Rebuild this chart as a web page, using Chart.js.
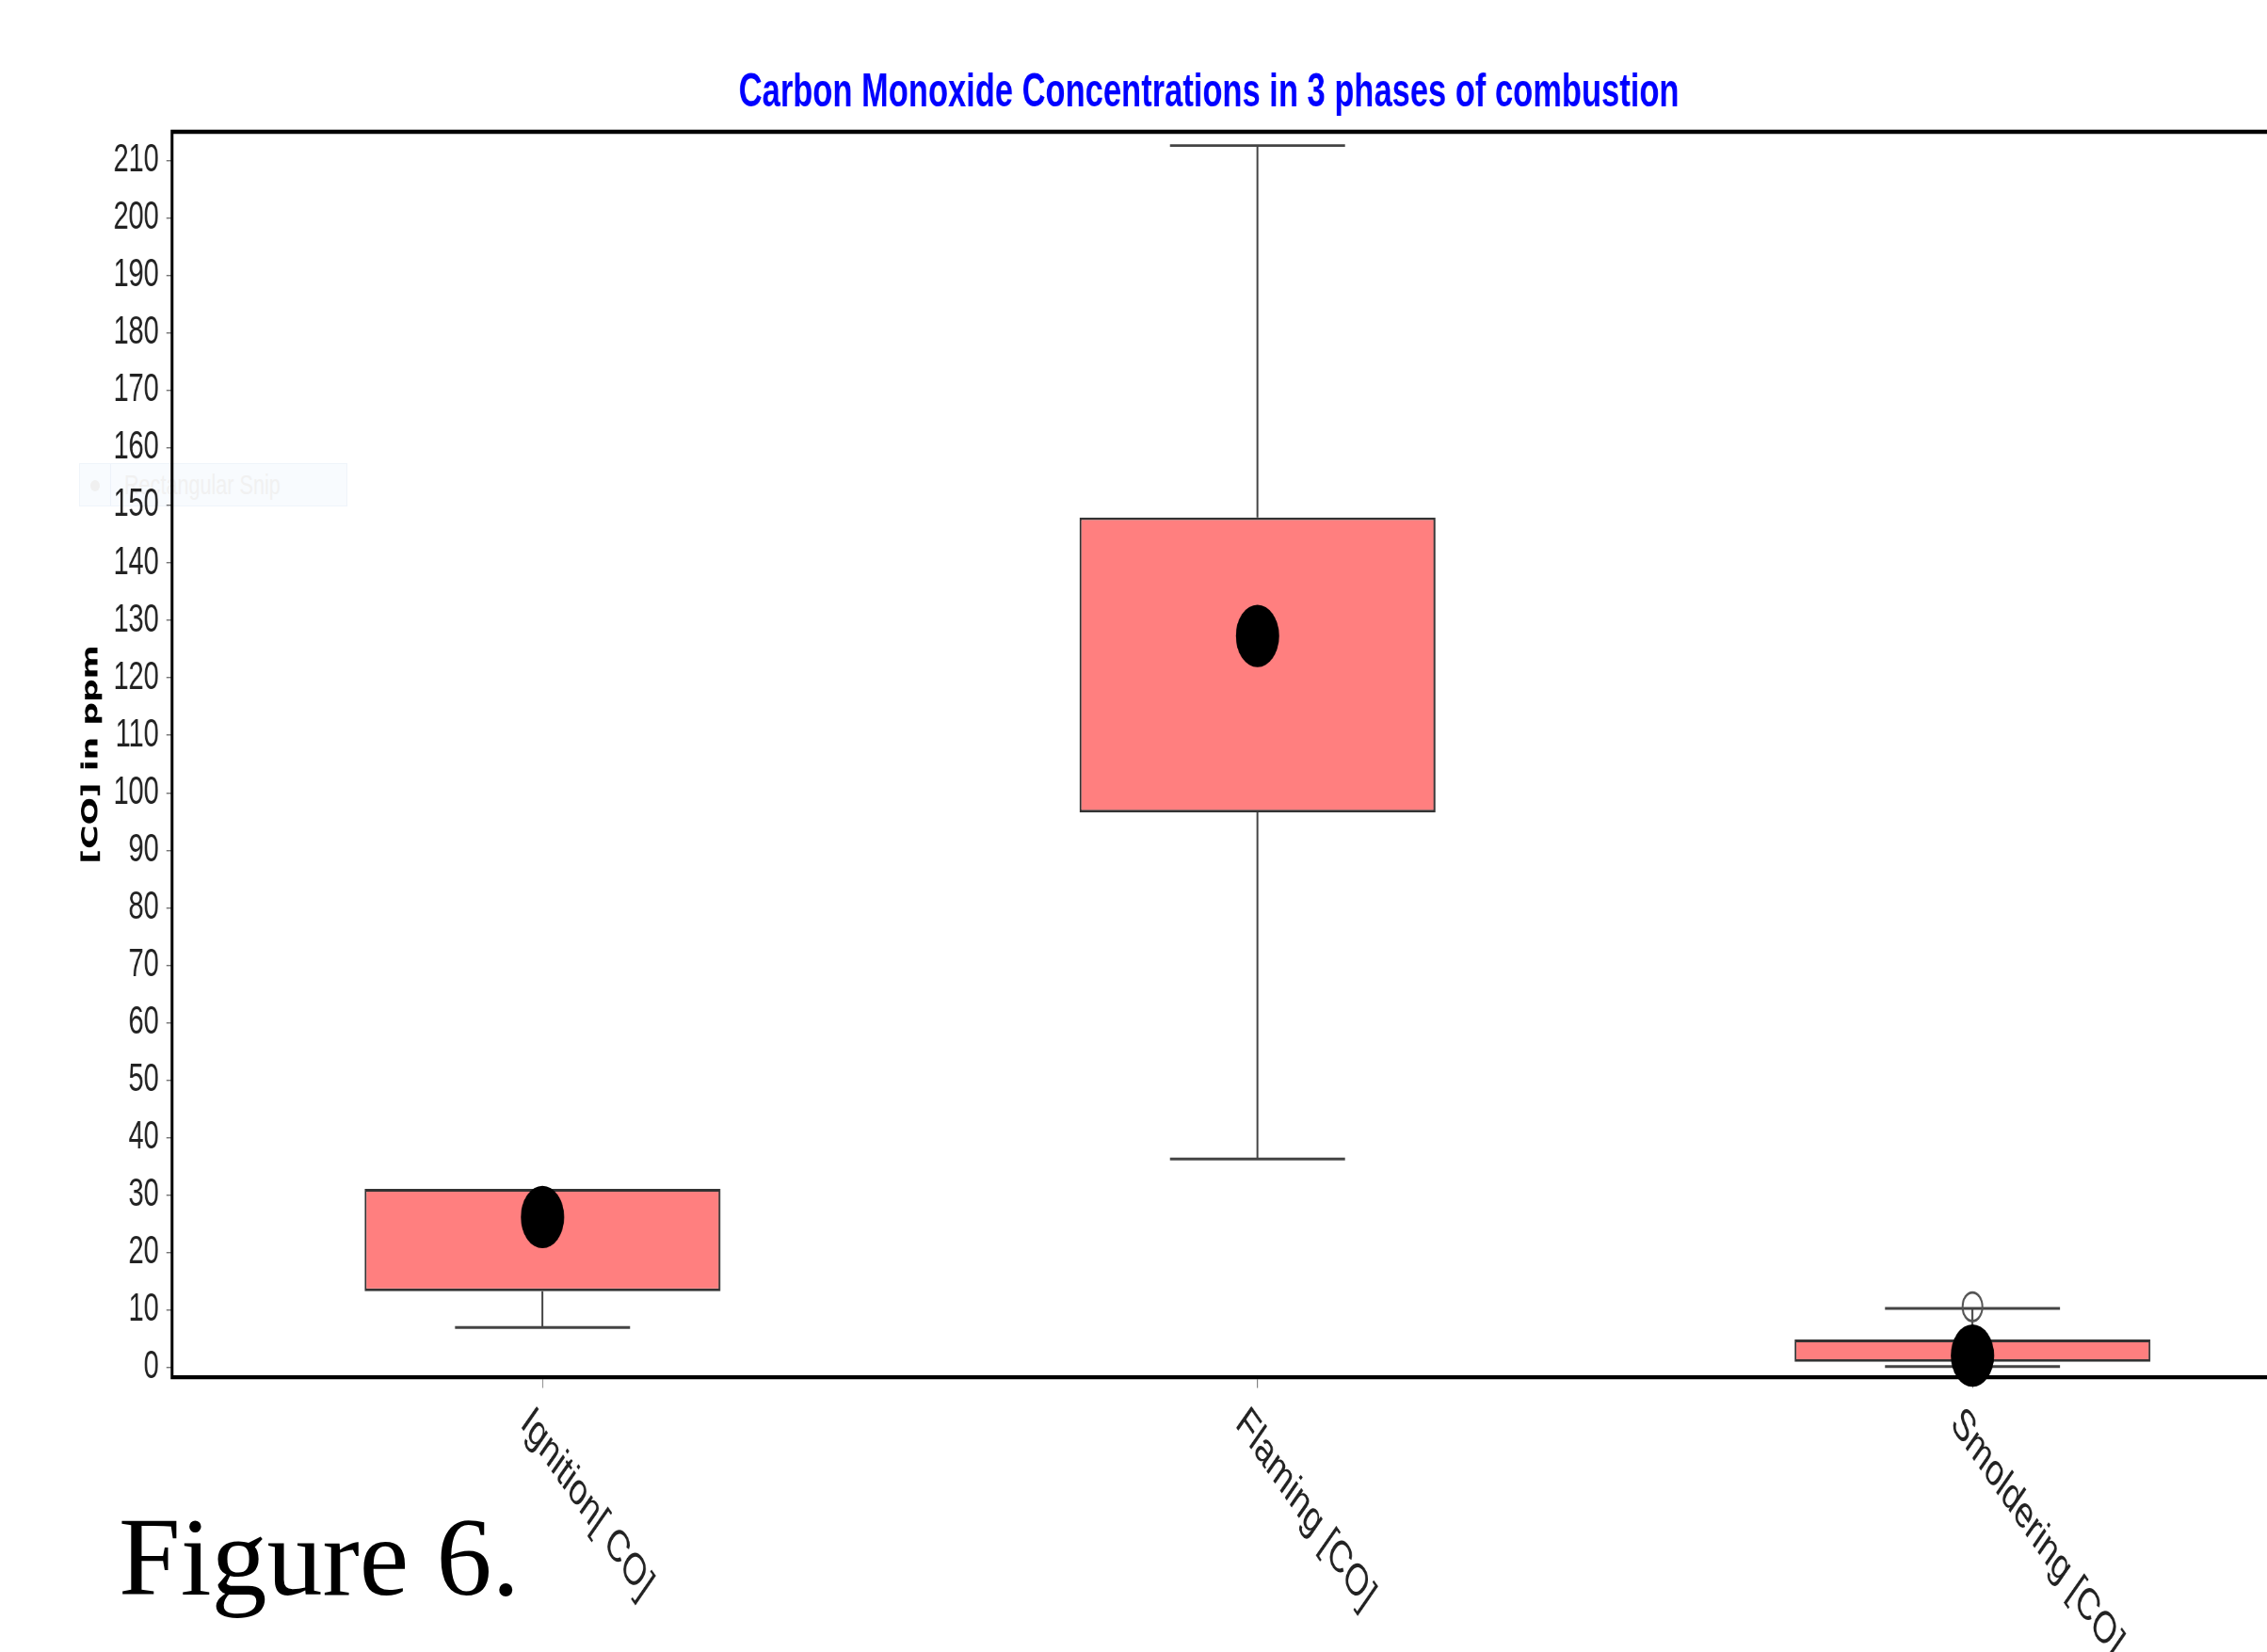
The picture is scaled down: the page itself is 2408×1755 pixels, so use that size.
<!DOCTYPE html>
<html>
<head>
<meta charset="utf-8">
<script src="https://cdn.jsdelivr.net/npm/chart.js@4/dist/chart.umd.min.js"></script>
<style>
  html, body { margin: 0; padding: 0; background: #fff; overflow: hidden; width: 2408px; height: 1755px; }
  #wrap { position: relative; width: 2408px; height: 1755px; overflow: hidden; }
  #chart { position: absolute; left: 0; top: 0; z-index: 1; }
  #snip { position: absolute; left: 84px; top: 492px; width: 285px; height: 46px; z-index: 0;
          background: rgba(236, 243, 251, 0.35); border: 1px solid rgba(225, 234, 245, 0.4); box-sizing: border-box; }
  #snip .dot { position: absolute; left: 11px; top: 17px; width: 10px; height: 12px; border-radius: 50%; background: #f0f0f0; }
  #snip .sep { position: absolute; left: 32px; top: 0; width: 1px; height: 44px; background: rgba(225, 234, 245, 0.5); }
  #snip .txt { position: absolute; left: 47px; top: 5px; font: 30px "Liberation Sans", sans-serif; color: #f1f1f1;
               white-space: nowrap; transform: scaleX(0.72); transform-origin: left top; }
  #fig { position: absolute; left: 126px; top: 1596px; z-index: 2; font-family: "Liberation Serif", "Times New Roman", serif;
         font-size: 118px; line-height: 118px; color: #000; white-space: nowrap; }
</style>
</head>
<body>
<div id="wrap">
  <div id="snip"><span class="dot"></span><span class="sep"></span><span class="txt">Rectangular Snip</span></div>
  <canvas id="chart" width="2488" height="1219" style="width:2488px;height:1755px"></canvas>
  <div id="fig">Figure 6.</div>
</div>
<script>
// Combustion phases and their CO box-plot statistics (ppm)
const phases       = ['Ignition[ CO]', 'Flaming [CO]', 'Smoldering [CO]'];
const whiskerLow   = [7.0, 36.3, 0.2];
const quartileLow  = [13.3, 96.6, 1.0];
const quartileHigh = [31.1, 147.9, 4.9];
const whiskerHigh  = [31.1, 212.6, 10.3];
const means        = [26.2, 127.3, 2.1];
const outlierPhase = [2];
const outlierValue = [10.6];

// Value axis
const yMin = -1.65, yMax = 215.0, yStep = 10;
// Phase axis (phase index units)
const xMin = -0.518, xMax = 2.518;

const capHalfWidth = 0.1224;
const sansFamily = '"Liberation Sans", Arial, sans-serif';

// The figure is rendered with a vertical stretch of 1.44 (wide-aspect export)
const stretch = 1.44;

const boxData = phases.map((_, i) => ({ x: i, y: [quartileLow[i], quartileHigh[i]] }));
const meanData = phases.map((_, i) => ({ x: i, y: means[i] }));
const outlierData = outlierPhase.map((p, k) => ({ x: p, y: outlierValue[k] }));

// Whiskers and caps, drawn beneath the boxes
const whiskerPlugin = {
  id: 'whiskers',
  beforeDatasetsDraw(chart) {
    const { ctx, scales: { x, y } } = chart;
    const seg = (x1, y1, x2, y2) => { ctx.beginPath(); ctx.moveTo(x1, y1); ctx.lineTo(x2, y2); ctx.stroke(); };
    ctx.save();
    ctx.strokeStyle = '#444';
    ctx.lineWidth = 2;
    phases.forEach((_, i) => {
      const cx = x.getPixelForValue(i);
      const l = x.getPixelForValue(i - capHalfWidth);
      const r = x.getPixelForValue(i + capHalfWidth);
      const yHi = y.getPixelForValue(whiskerHigh[i]);
      const yQ3 = y.getPixelForValue(quartileHigh[i]);
      const yQ1 = y.getPixelForValue(quartileLow[i]);
      const yLo = y.getPixelForValue(whiskerLow[i]);
      if (whiskerHigh[i] > quartileHigh[i]) {
        seg(cx, yQ3, cx, yHi);
        seg(l, yHi, r, yHi);
      }
      if (whiskerLow[i] < quartileLow[i]) {
        seg(cx, yQ1, cx, yLo);
        seg(l, yLo, r, yLo);
      }
    });
    ctx.restore();
  }
};

// Top frame line and slanted phase labels
const framePlugin = {
  id: 'frame',
  afterDraw(chart) {
    const { ctx, chartArea, scales: { x } } = chart;
    ctx.save();
    ctx.strokeStyle = '#000';
    ctx.lineWidth = 3;
    ctx.beginPath();
    ctx.moveTo(chartArea.left - 1.5, chartArea.top);
    ctx.lineTo(chartArea.right, chartArea.top);
    ctx.stroke();

    ctx.font = '33px ' + sansFamily;
    ctx.fillStyle = '#222';
    ctx.textAlign = 'left';
    ctx.textBaseline = 'middle';
    phases.forEach((label, i) => {
      const px = x.getPixelForValue(i);
      ctx.save();
      ctx.translate(px - 18, chartArea.bottom + 29);
      ctx.rotate(Math.PI / 4);
      ctx.fillText(label, 0, 0);
      ctx.restore();
    });
    ctx.restore();
  }
};

new Chart(document.getElementById('chart'), {
  type: 'bar',
  data: {
    datasets: [
      {
        type: 'bar',
        label: 'IQR',
        data: boxData,
        backgroundColor: '#ff7f7f',
        borderColor: '#333',
        borderWidth: 2,
        borderSkipped: false,
        barPercentage: 0.4977,
        categoryPercentage: 1,
        order: 2
      },
      {
        type: 'scatter',
        label: 'Mean',
        data: meanData,
        pointStyle: 'circle',
        pointRadius: 23,
        pointHoverRadius: 23,
        backgroundColor: '#000',
        borderWidth: 0,
        clip: false,
        order: 1
      },
      {
        type: 'scatter',
        label: 'Outlier',
        data: outlierData,
        pointStyle: 'circle',
        pointRadius: 10.5,
        pointHoverRadius: 10.5,
        backgroundColor: 'rgba(0,0,0,0)',
        borderColor: '#555',
        borderWidth: 2,
        clip: false,
        order: 0
      }
    ]
  },
  options: {
    responsive: false,
    animation: false,
    devicePixelRatio: stretch,
    layout: { autoPadding: false, padding: { left: 79.6, right: 0, top: 0, bottom: 195 } },
    plugins: {
      legend: { display: false },
      tooltip: { enabled: false },
      title: {
        display: true,
        text: 'Carbon Monoxide Concentrations in 3 phases of combustion',
        color: '#0000ff',
        font: { family: sansFamily, size: 34.5, weight: 'bold' },
        padding: { top: 48, bottom: 7.8 }
      }
    },
    scales: {
      x: {
        type: 'linear',
        min: xMin,
        max: xMax,
        offset: false,
        grid: { display: true, offset: false, drawOnChartArea: false, drawTicks: true, tickLength: 8, color: '#777', lineWidth: 1 },
        border: { display: true, color: '#000', width: 3 },
        ticks: { display: false, stepSize: 1, includeBounds: false }
      },
      y: {
        type: 'linear',
        min: yMin,
        max: yMax,
        grid: { display: true, drawOnChartArea: false, drawTicks: true, tickLength: 6, color: '#777', lineWidth: 1 },
        border: { display: true, color: '#000', width: 3 },
        ticks: {
          stepSize: yStep,
          includeBounds: false,
          autoSkip: false,
          padding: 8,
          color: '#222',
          font: { family: sansFamily, size: 29 }
        },
        title: {
          display: true,
          text: '[CO] in ppm',
          color: '#000',
          font: { family: '"DejaVu Sans", Verdana, sans-serif', size: 24, weight: 'bold' },
          padding: { top: 3, bottom: 1 }
        }
      }
    }
  },
  plugins: [whiskerPlugin, framePlugin]
});
</script>
</body>
</html>
